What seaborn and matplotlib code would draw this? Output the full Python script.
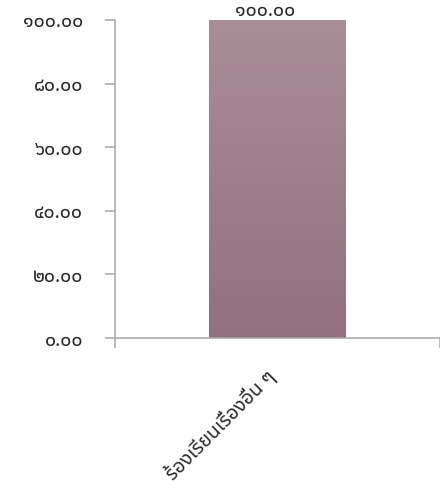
import numpy as np
import pandas as pd
import matplotlib
matplotlib.use("Agg")
import matplotlib.pyplot as plt
import seaborn as sns
from matplotlib.colors import LinearSegmentedColormap
from matplotlib.transforms import offset_copy

categories = ["ร้องเรียนเรื่องอื่น ๆ"]
values = [100.00]
y_ticks = [0, 20, 40, 60, 80, 100]

THAI_DIGITS = str.maketrans("0123456789", "๐๑๒๓๔๕๖๗๘๙")


def thai_num(v):
    return f"{v:.2f}".translate(THAI_DIGITS)


sns.set_theme(style="white")
plt.rcParams["font.family"] = ["Noto Sans Thai", "DejaVu Sans"]

TEXT = "#2a2a2a"
AXIS = "#a6a6a6"
FS = 14

df = pd.DataFrame({"category": categories, "value": values})

fig = plt.figure(figsize=(4.4, 4.9), dpi=100)
ax = fig.add_axes([0.2614, 0.3102, 0.7386, 0.6490])

sns.barplot(data=df, x="category", y="value", ax=ax, color="#9d7f8b",
            width=0.42, saturation=1)

# vertical shading on the bar
cmap = LinearSegmentedColormap.from_list("bar", ["#917180", "#a98d97"])
grad = np.linspace(0, 1, 256).reshape(-1, 1)
for p in ax.patches:
    x0, y0 = p.get_x(), p.get_y()
    w, h = p.get_width(), p.get_height()
    im = ax.imshow(grad, cmap=cmap, origin="lower", aspect="auto",
                   extent=[x0, x0 + w, y0, y0 + h], zorder=p.get_zorder() + 0.1)
    im.set_clip_path(p)
    ax.annotate(thai_num(h), (x0 + w / 2, y0 + h), xytext=(-9, -1),
                textcoords="offset points", ha="center", va="bottom",
                fontsize=FS, color=TEXT, annotation_clip=False)

ax.set_xlim(-0.5, 0.5)
ax.set_ylim(0, 100)
ax.set_yticks(y_ticks)
ax.set_yticklabels([thai_num(v) for v in y_ticks], fontsize=FS, color=TEXT)
ax.set_xticks([0])
ax.set_xticklabels(categories, rotation=45, ha="right", va="center",
                   rotation_mode="anchor", fontsize=FS, color=TEXT)
ax.set_xticks([-0.5, 0.5], minor=True)
ax.tick_params(axis="x", which="major", length=0, pad=26)
ax.tick_params(axis="x", which="minor", length=7, width=1.1, color=AXIS,
               direction="out", bottom=True)
ax.tick_params(axis="y", length=7, width=1.1, color=AXIS, direction="out",
               left=True, pad=16)
for lbl in ax.get_xticklabels():
    lbl.set_transform(offset_copy(lbl.get_transform(), fig=fig, x=-5, y=0,
                                  units="dots"))
ax.set_xlabel("")
ax.set_ylabel("")
for side in ("top", "right"):
    ax.spines[side].set_visible(False)
for side in ("left", "bottom"):
    ax.spines[side].set_color(AXIS)
    ax.spines[side].set_linewidth(1.1)

fig.savefig("out.png", dpi=100)
